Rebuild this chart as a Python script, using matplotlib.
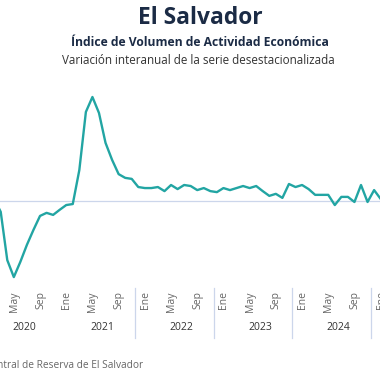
import matplotlib
matplotlib.use('Agg')
import matplotlib.pyplot as plt
import matplotlib.transforms as mtransforms

plt.rcParams['font.family'] = ['Open Sans', 'DejaVu Sans']

# datos: variacion interanual (%) de Mar 2020 a Feb 2025
inicio = 2  # indice de mes (Ene 2020 = 0)
valores = [0.6, -3.2, -17.4, -22.4, -17.9, -12.9, -8.5, -4.4, -3.5, -4.1,
           -2.6, -1.2, -0.9, 9.1, 26.2, 30.6, 25.9, 17.1, 12.1, 7.9, 6.8, 6.5,
           4.1, 3.8, 3.8, 4.1, 2.9, 4.7, 3.5, 4.7, 4.4, 3.2, 3.8, 2.9,
           2.6, 3.8, 3.2, 3.8, 4.4, 3.8, 4.4, 2.9, 1.5, 2.1, 0.9, 5.0,
           4.1, 4.7, 3.5, 1.8, 1.8, 1.8, -1.2, 1.2, 1.2, -0.3, 4.7, -0.3,
           3.2, 0.6]
meses = ['Ene', 'May', 'Sep']
anios = [2020, 2021, 2022, 2023, 2024]
separadores = [2022, 2023, 2024, 2025]

x = list(range(inicio, inicio + len(valores)))

fig = plt.figure(figsize=(3.8, 3.8), dpi=100)
ax = fig.add_axes([0, 90 / 380, 1, 210 / 380])
ax.set_xlim(2.89, 60.9)
ax.set_ylim(-26.2, 35.6)
ax.axhline(0, color='#ccd6eb', lw=0.9, zorder=1)
ax.plot(x, valores, color='#22a5a3', lw=1.7, solid_joinstyle='round', zorder=3)
ax.axis('off')

trans = mtransforms.blended_transform_factory(ax.transData, ax.transAxes)
desp = mtransforms.ScaledTranslation(7 / 100, 0, fig.dpi_scale_trans)

# etiquetas de meses
for a in anios + [2025]:
    for i, m in enumerate(meses):
        pos = (a - 2020) * 12 + i * 4
        if pos < 3 or pos > 61:
            continue
        ax.text(pos, -0.005, m, rotation=90, ha='center', va='top',
                fontsize=7.5, color='#666666', transform=trans + desp, clip_on=False)

# etiquetas de anios
for a in anios:
    centro = (a - 2020) * 12 + 5.5
    ax.text(centro, -37 / 210, str(a), ha='center', va='center',
            fontsize=7.5, color='#333333', transform=trans + desp, clip_on=False)

# lineas separadoras de grupos
for a in separadores:
    pos = (a - 2020) * 12 - 0.5
    ax.plot([pos, pos], [0.01, -48 / 210], color='#ccd6eb', lw=0.9,
            transform=trans, clip_on=False)

fig.text(200 / 380, 1 - 18 / 380, 'El Salvador', ha='center', va='center',
         fontsize=16.4, fontweight='bold', color='#1b2b45')
fig.text(200 / 380, 1 - 42 / 380, 'Índice de Volumen de Actividad Económica',
         ha='center', va='center', fontsize=8.7, fontweight='bold', color='#1b2b45')
fig.text(198 / 380, 1 - 61 / 380, 'Variación interanual de la serie desestacionalizada',
         ha='center', va='center', fontsize=8.4, color='#333333')
fig.text(143 / 380, 1 - 366 / 380, 'Fuente: Banco Central de Reserva de El Salvador',
         ha='right', va='center', fontsize=7.3, color='#666666')

fig.savefig('out.png', dpi=100, facecolor='white')
